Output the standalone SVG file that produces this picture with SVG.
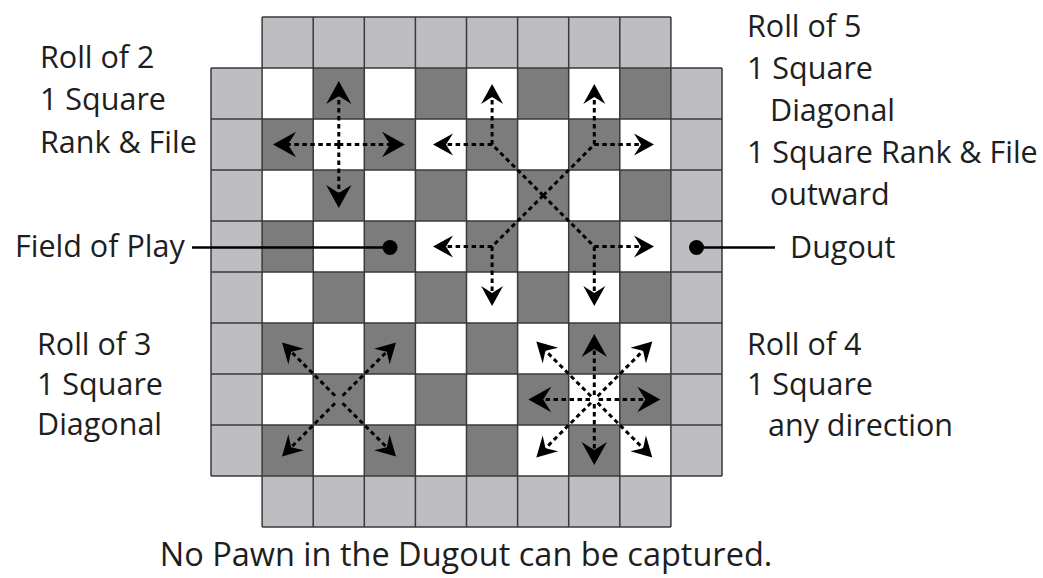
<svg xmlns="http://www.w3.org/2000/svg" width="1043" height="578" viewBox="0 0 1043 578">
<style>
.g{fill:#bebec2}
.w{fill:#ffffff}
.d{fill:#7c7c7c}
.grid{fill:none;stroke:#3a3a3a;stroke-width:1.5}
.mv{fill:none;stroke:#000;stroke-width:3;stroke-dasharray:4.5 3.5}
.lead{fill:none;stroke:#000;stroke-width:2.5}
.hd{fill:#000}
text{font-family:"Open Sans","Noto Sans","DejaVu Sans",sans-serif;font-size:30.5px;fill:#1e1e1e}
.cap{font-size:32.5px}
</style>
<defs>
<path id="ah" d="M0,0 L-20,-11 L-13,0 L-20,11 Z"/>
</defs>
<g id="board">
<rect class="g" x="262.1" y="17" width="408.8" height="51"/>
<rect class="g" x="262.1" y="476" width="408.8" height="51"/>
<rect class="g" x="211" y="68" width="51.1" height="408"/>
<rect class="g" x="670.9" y="68" width="51.1" height="408"/>
<rect class="w" x="262.1" y="68" width="408.8" height="408"/>
<g class="d">
<rect x="313.2" y="68" width="51.1" height="51"/><rect x="415.4" y="68" width="51.1" height="51"/><rect x="517.6" y="68" width="51.1" height="51"/><rect x="619.8" y="68" width="51.1" height="51"/>
<rect x="262.1" y="119" width="51.1" height="51"/><rect x="364.3" y="119" width="51.1" height="51"/><rect x="466.5" y="119" width="51.1" height="51"/><rect x="568.7" y="119" width="51.1" height="51"/>
<rect x="313.2" y="170" width="51.1" height="51"/><rect x="415.4" y="170" width="51.1" height="51"/><rect x="517.6" y="170" width="51.1" height="51"/><rect x="619.8" y="170" width="51.1" height="51"/>
<rect x="262.1" y="221" width="51.1" height="51"/><rect x="364.3" y="221" width="51.1" height="51"/><rect x="466.5" y="221" width="51.1" height="51"/><rect x="568.7" y="221" width="51.1" height="51"/>
<rect x="313.2" y="272" width="51.1" height="51"/><rect x="415.4" y="272" width="51.1" height="51"/><rect x="517.6" y="272" width="51.1" height="51"/><rect x="619.8" y="272" width="51.1" height="51"/>
<rect x="262.1" y="323" width="51.1" height="51"/><rect x="364.3" y="323" width="51.1" height="51"/><rect x="466.5" y="323" width="51.1" height="51"/><rect x="568.7" y="323" width="51.1" height="51"/>
<rect x="313.2" y="374" width="51.1" height="51"/><rect x="415.4" y="374" width="51.1" height="51"/><rect x="517.6" y="374" width="51.1" height="51"/><rect x="619.8" y="374" width="51.1" height="51"/>
<rect x="262.1" y="425" width="51.1" height="51"/><rect x="364.3" y="425" width="51.1" height="51"/><rect x="466.5" y="425" width="51.1" height="51"/><rect x="568.7" y="425" width="51.1" height="51"/>
</g>
<path class="grid" d="M211,68V476M722,68V476M262.1,17V527M313.2,17V527M364.3,17V527M415.4,17V527M466.5,17V527M517.6,17V527M568.7,17V527M619.8,17V527M670.9,17V527M262.1,17H670.9M211,68H722M211,119H722M211,170H722M211,221H722M211,272H722M211,323H722M211,374H722M211,425H722M211,476H722M262.1,527H670.9"/>
</g>
<g id="roll2-moves">
<path class="mv" d="M338.8,144.5V93M338.8,144.5V196M338.8,144.5H285M338.8,144.5H393"/>
<g class="hd">
<use href="#ah" transform="translate(338.8,81) rotate(-90) scale(1.15)"/>
<use href="#ah" transform="translate(338.8,208) rotate(90) scale(1.15)"/>
<use href="#ah" transform="translate(273,144.5) rotate(180) scale(1.15)"/>
<use href="#ah" transform="translate(405,144.5) scale(1.15)"/>
</g>
</g>
<g id="roll5-moves">
<path class="mv" d="M543.2,195.5L492.1,144.5M543.2,195.5L594.3,144.5M543.2,195.5L492.1,246.5M543.2,195.5L594.3,246.5"/>
<path class="mv" d="M492.1,144.5V96M492.1,144.5H445M594.3,144.5V96M594.3,144.5H642M492.1,246.5V294M492.1,246.5H445M594.3,246.5V294M594.3,246.5H642"/>
<g class="hd">
<use href="#ah" transform="translate(492.1,84) rotate(-90)"/>
<use href="#ah" transform="translate(594.3,84) rotate(-90)"/>
<use href="#ah" transform="translate(433,144.5) rotate(180)"/>
<use href="#ah" transform="translate(654,144.5)"/>
<use href="#ah" transform="translate(433,246.5) rotate(180)"/>
<use href="#ah" transform="translate(654,246.5)"/>
<use href="#ah" transform="translate(492.1,306) rotate(90)"/>
<use href="#ah" transform="translate(594.3,306) rotate(90)"/>
</g>
</g>
<g id="roll3-moves">
<path class="mv" d="M335,395.7L290.5,351M342.6,395.7L387.5,351M335,403.3L290.5,448M342.6,403.3L387.5,448"/>
<g class="hd">
<use href="#ah" transform="translate(282,342.5) rotate(-135)"/>
<use href="#ah" transform="translate(396,342.5) rotate(-45)"/>
<use href="#ah" transform="translate(282,456.5) rotate(135)"/>
<use href="#ah" transform="translate(396,456.5) rotate(45)"/>
</g>
</g>
<g id="roll4-moves">
<path class="mv" d="M594.3,395V346M594.3,404V453M590,399.5H540.3M598.6,399.5H648.3M591,396.2L544.8,350M597.6,396.2L643.8,350M591,402.8L544.8,449M597.6,402.8L643.8,449"/>
<g class="hd">
<use href="#ah" transform="translate(594.3,334) rotate(-90) scale(1.15)"/>
<use href="#ah" transform="translate(594.3,465) rotate(90) scale(1.15)"/>
<use href="#ah" transform="translate(528.3,399.5) rotate(180) scale(1.15)"/>
<use href="#ah" transform="translate(660.3,399.5) scale(1.15)"/>
<use href="#ah" transform="translate(536.3,341.5) rotate(-135)"/>
<use href="#ah" transform="translate(652.3,341.5) rotate(-45)"/>
<use href="#ah" transform="translate(536.3,457.5) rotate(135)"/>
<use href="#ah" transform="translate(652.3,457.5) rotate(45)"/>
</g>
</g>
<g id="connectors">
<path class="lead" d="M192,247.5H390"/>
<circle cx="390" cy="247.5" r="7.5" fill="#000"/>
<path class="lead" d="M696.5,247.5H775"/>
<circle cx="696.5" cy="247.5" r="7.5" fill="#000"/>
</g>
<g id="label-roll2">
<text x="40" y="68">Roll of 2</text>
<text x="40" y="110">1 Square</text>
<text x="40" y="153">Rank &amp; File</text>
</g>
<g id="label-roll5">
<text x="747" y="37">Roll of 5</text>
<text x="747" y="79">1 Square</text>
<text x="770" y="121">Diagonal</text>
<text x="747" y="163">1 Square Rank &amp; File</text>
<text x="770" y="205">outward</text>
</g>
<g id="label-field">
<text x="15" y="257">Field of Play</text>
</g>
<g id="label-dugout">
<text x="790" y="258">Dugout</text>
</g>
<g id="label-roll3">
<text x="37" y="355">Roll of 3</text>
<text x="37" y="395">1 Square</text>
<text x="37" y="435">Diagonal</text>
</g>
<g id="label-roll4">
<text x="747" y="355">Roll of 4</text>
<text x="747" y="395">1 Square</text>
<text x="768" y="436">any direction</text>
</g>
<g id="caption">
<text class="cap" x="466" y="566" text-anchor="middle">No Pawn in the Dugout can be captured.</text>
</g>
</svg>
